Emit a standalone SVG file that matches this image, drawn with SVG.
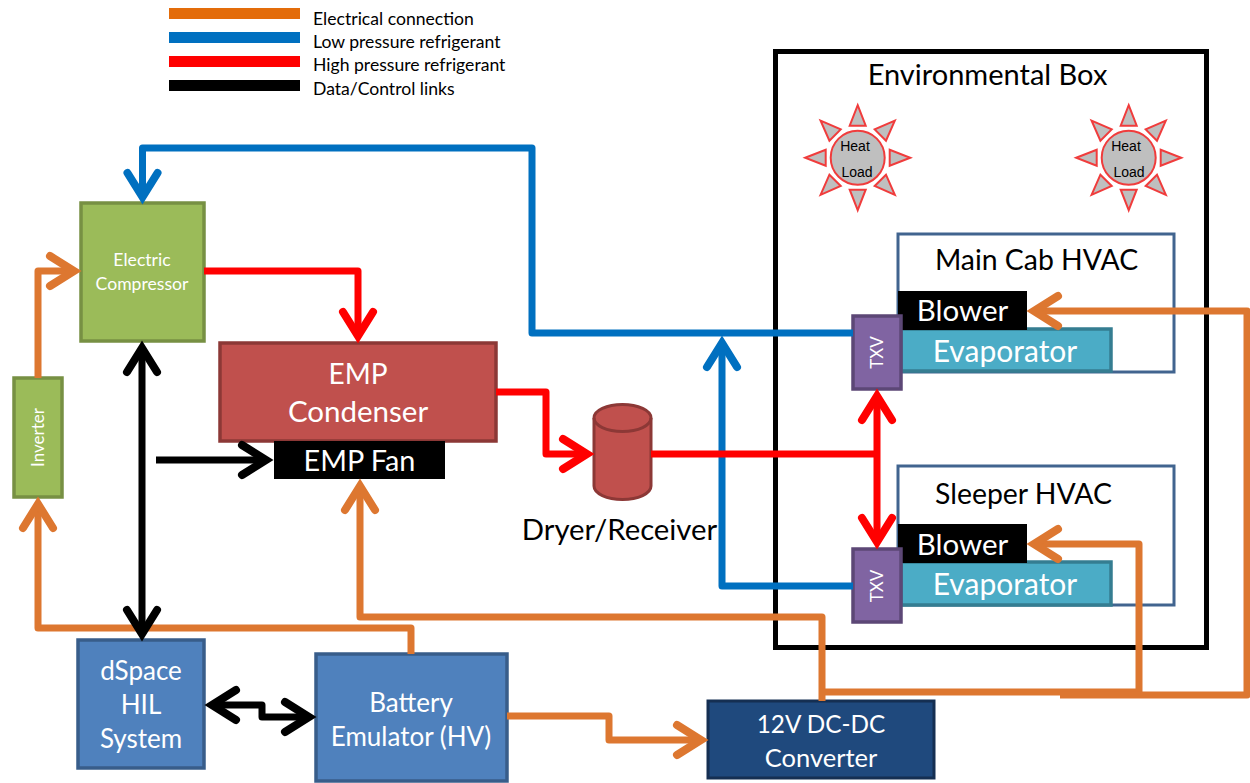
<svg xmlns="http://www.w3.org/2000/svg" width="1250" height="783" viewBox="0 0 1250 783">
<style>
text{font-family:"Lato","Open Sans","Liberation Sans",sans-serif;text-anchor:middle}
.w{fill:#fff}.k{fill:#000}
.blue{fill:#4f81bd;stroke:#385d8a;stroke-width:3.5}
.green{fill:#9bbb59;stroke:#779043;stroke-width:3.5}
.txv{fill:#8064a2;stroke:#5c4776;stroke-width:3.5}
.evap{fill:#4bacc6;stroke:#357d91;stroke-width:3.5}
.hvac{fill:#fff;stroke:#41648f;stroke-width:3}
.c{fill:none;stroke-width:7;stroke-linejoin:round}
.or{stroke:#dd7730}.bl{stroke:#0070c0}.rd{stroke:#ff0000}.bk{stroke:#000}
.sun{fill:#bfbfbf;stroke:#f03c3c;stroke-width:2}
.hl{font-family:"Liberation Sans",sans-serif;font-size:14px}
.leg{font-size:17.6px;text-anchor:start}
.head{fill:none;stroke-width:8;stroke-linecap:round;stroke-linejoin:miter;stroke-miterlimit:10}
</style>
<defs>
<marker id="ao" markerUnits="userSpaceOnUse" markerWidth="60" markerHeight="60" refX="40" refY="30" orient="auto-start-reverse" overflow="visible"><path class="head" stroke="#dd7730" d="M16,15 L40,30 L16,45"/></marker>
<marker id="ab" markerUnits="userSpaceOnUse" markerWidth="60" markerHeight="60" refX="40" refY="30" orient="auto-start-reverse" overflow="visible"><path class="head" stroke="#0070c0" d="M16,15 L40,30 L16,45"/></marker>
<marker id="ar" markerUnits="userSpaceOnUse" markerWidth="60" markerHeight="60" refX="40" refY="30" orient="auto-start-reverse" overflow="visible"><path class="head" stroke="#ff0000" d="M16,15 L40,30 L16,45"/></marker>
<marker id="ak" markerUnits="userSpaceOnUse" markerWidth="60" markerHeight="60" refX="40" refY="30" orient="auto-start-reverse" overflow="visible"><path class="head" stroke="#000" d="M16,15 L40,30 L16,45"/></marker>
<g id="sunshape">
<circle class="sun" r="27"/>
<g id="ray"><path class="sun" d="M0,-52.500 L8,-32 L-8,-32 Z"/></g>
<use href="#ray" transform="rotate(45)"/><use href="#ray" transform="rotate(90)"/><use href="#ray" transform="rotate(135)"/><use href="#ray" transform="rotate(180)"/><use href="#ray" transform="rotate(225)"/><use href="#ray" transform="rotate(270)"/><use href="#ray" transform="rotate(315)"/>
</g>
</defs>
<rect width="1250" height="783" fill="#fff"/>

<g id="legend">
<rect x="169" y="8" width="131" height="11" fill="#e36c0a"/>
<rect x="169" y="32" width="131" height="11" fill="#0070c0"/>
<rect x="169" y="56" width="131" height="11" fill="#ff0000"/>
<rect x="169" y="80" width="131" height="11" fill="#000"/>
<text class="leg" x="313" y="25">Electrical connection</text>
<text class="leg" x="313" y="48">Low pressure refrigerant</text>
<text class="leg" x="313" y="71">High pressure refrigerant</text>
<text class="leg" x="313" y="95">Data/Control links</text>
</g>

<g id="environmental-box">
<rect x="775.500" y="51.500" width="431" height="596" fill="none" stroke="#000" stroke-width="5"/>
<text x="987.500" y="85" font-size="29">Environmental Box</text>
</g>
<g id="heat-load-1"><use href="#sunshape" x="857.700" y="157.700"/>
<text class="hl" x="855" y="151">Heat</text>
<text class="hl" x="857" y="177">Load</text></g>
<g id="heat-load-2"><use href="#sunshape" x="1128.700" y="157.700"/>
<text class="hl" x="1126" y="151">Heat</text>
<text class="hl" x="1129" y="177">Load</text></g>

<g id="main-cab-hvac"><rect class="hvac" x="898" y="234" width="276" height="138"/>
<text x="1036.500" y="270" font-size="28.400">Main Cab HVAC</text></g>
<g id="main-evaporator"><rect class="evap" x="901" y="329" width="210" height="42"/>
<text class="w" x="1005" y="362" font-size="30">Evaporator</text></g>
<g id="main-blower"><rect x="898" y="291" width="129" height="39" fill="#000"/>
<text class="w" x="962.500" y="321" font-size="29.500">Blower</text></g>
<g id="main-txv"><rect class="txv" x="853" y="316" width="48" height="73"/>
<text class="w" transform="translate(883,352.500) rotate(-90)" font-size="17">TXV</text></g>

<g id="sleeper-hvac"><rect class="hvac" x="898" y="466" width="276" height="139"/>
<text x="1023.500" y="504" font-size="28.400">Sleeper HVAC</text></g>
<g id="sleeper-evaporator"><rect class="evap" x="901" y="562" width="210" height="43"/>
<text class="w" x="1005" y="595" font-size="30">Evaporator</text></g>
<g id="sleeper-blower"><rect x="898" y="524" width="129" height="39" fill="#000"/>
<text class="w" x="962.500" y="555" font-size="29.500">Blower</text></g>
<g id="sleeper-txv"><rect class="txv" x="853" y="549" width="48" height="73"/>
<text class="w" transform="translate(883,586) rotate(-90)" font-size="17">TXV</text></g>

<g id="compressor"><rect class="green" x="81" y="203" width="123" height="138"/>
<text class="w" x="142" y="266" font-size="17.600">Electric</text>
<text class="w" x="142" y="290" font-size="17.600">Compressor</text></g>
<g id="inverter"><rect class="green" x="14" y="378" width="48" height="119"/>
<text class="w" transform="translate(44,437.500) rotate(-90)" font-size="17">Inverter</text></g>
<g id="emp-condenser"><rect x="220" y="343" width="276" height="98" fill="#c0504d" stroke="#8c3836" stroke-width="3.500"/>
<text class="w" x="358" y="384" font-size="28">EMP</text>
<text class="w" x="358" y="422" font-size="29.500">Condenser</text></g>
<g id="emp-fan"><rect x="274" y="441" width="171" height="38" fill="#000"/>
<text class="w" x="359.500" y="471" font-size="28.800">EMP Fan</text></g>
<g id="dryer-receiver">
<path d="M594,418 A28.500,13.500 0 0 1 651,418 V486 A28.500,13.500 0 0 1 594,486 Z" fill="#c0504d" stroke="#8c3836" stroke-width="3"/>
<path d="M594,418 A28.500,13.500 0 0 0 651,418" fill="none" stroke="#8c3836" stroke-width="3"/>
<text x="619.500" y="540" font-size="29.300">Dryer/Receiver</text></g>
<g id="dspace"><rect class="blue" x="78" y="640" width="126" height="128"/>
<text class="w" x="141" y="680" font-size="26">dSpace</text>
<text class="w" x="141" y="714" font-size="26">HIL</text>
<text class="w" x="141" y="748" font-size="26">System</text></g>
<g id="battery-emulator"><rect class="blue" x="316" y="654" width="191" height="127"/>
<text class="w" x="411" y="712" font-size="26">Battery</text>
<text class="w" x="411" y="746" font-size="26">Emulator (HV)</text></g>
<g id="dc-dc"><rect x="708" y="701" width="226" height="77" fill="#1f497d" stroke="#152f52" stroke-width="3"/>
<text class="w" x="821" y="733" font-size="24.300">12V DC-DC</text>
<text class="w" x="821" y="767" font-size="25.500">Converter</text></g>

<g id="connectors">
<path class="c bl" d="M853,333 H532 V148 H142.500 V197" marker-end="url(#ab)"/>
<path class="c bl" d="M853,586 H722 V343" marker-end="url(#ab)"/>
<path class="c rd" d="M204,271 H358 V336" marker-end="url(#ar)"/>
<path class="c rd" d="M496,392 H546 V454 H587" marker-end="url(#ar)"/>
<path class="c rd" d="M651,454 H877"/>
<path class="c rd" d="M877,396 V542" marker-start="url(#ar)" marker-end="url(#ar)"/>
<path class="c or" d="M38,378 V271 H74" marker-end="url(#ao)"/>
<path class="c or" d="M411,654 V628 H38 V504" marker-end="url(#ao)"/>
<path class="c or" d="M822,701 V617 H360 V486" marker-end="url(#ao)"/>
<path class="c or" d="M507,716 H609 V740 H701" marker-end="url(#ao)"/>
<path class="c or" d="M822,692 H1139 V544 H1034" marker-end="url(#ao)"/>
<path class="c or" d="M1060,695 H1247 V311 H1034" marker-end="url(#ao)"/>
<path class="c bk" d="M142,348 V634" marker-start="url(#ak)" marker-end="url(#ak)"/>
<path class="c bk" d="M156,460 H266" marker-end="url(#ak)"/>
<path class="c bk" d="M212,705 H262 V717 H309" marker-start="url(#ak)" marker-end="url(#ak)"/>
</g>
</svg>
